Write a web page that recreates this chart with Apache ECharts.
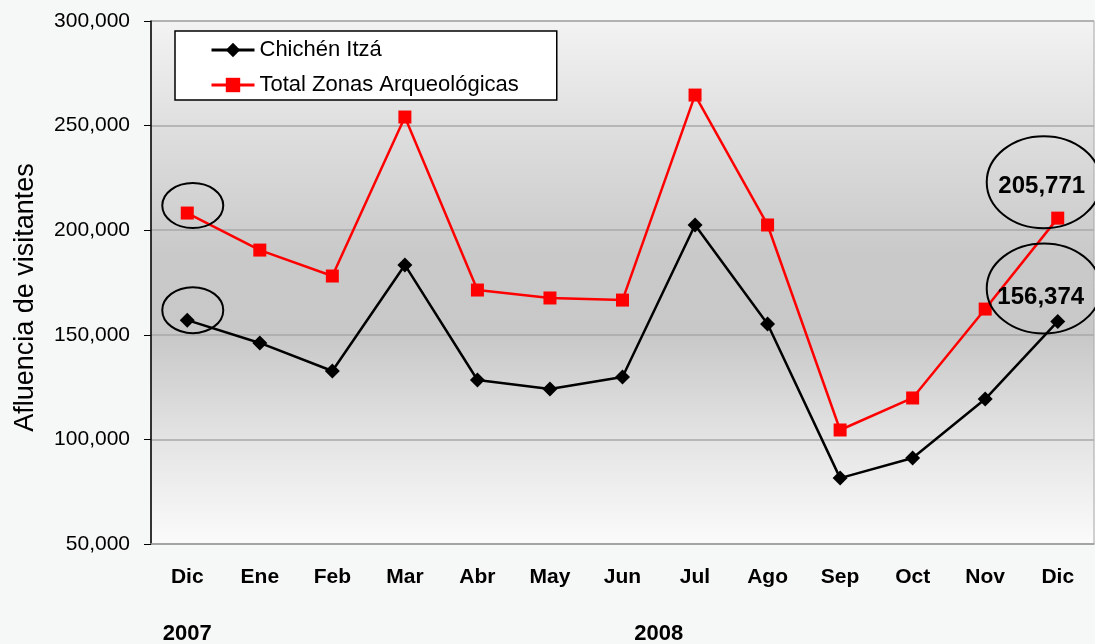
<!DOCTYPE html>
<html>
<head>
<meta charset="utf-8">
<script src="https://cdn.jsdelivr.net/npm/echarts@6/dist/echarts.min.js"></script>
<style>
html,body{margin:0;padding:0;background:#f6f7f7;}
#chart{width:1095px;height:644px;}
</style>
</head>
<body>
<div id="chart"></div>
<script>
const categories = ['Dic','Ene','Feb','Mar','Abr','May','Jun','Jul','Ago','Sep','Oct','Nov','Dic'];
const chichenItza = [157000,146100,132700,183400,128400,124100,129800,202500,155200,81500,91100,119300,156374];
const totalZonas = [208200,190500,178100,254100,171400,167600,166600,264600,202500,104500,119800,162300,205771];
const yearLabels = [{text:'2007', from:0, to:0},{text:'2008', from:6, to:7}];
const seriesNames = ['Chichén Itzá','Total Zonas Arqueológicas'];

const FONT = '"Liberation Sans", Arial, sans-serif';
const fmt = v => v.toLocaleString('en-US');
const last = categories.length - 1;

const chart = echarts.init(document.getElementById('chart'));
const option = {
  backgroundColor: '#f6f7f7',
  animation: false,
  textStyle: {fontFamily: FONT},
  grid: {
    left: 151, right: 1, top: 21, bottom: 100,
    containLabel: false,
    outerBoundsMode: 'none',
    show: true,
    borderColor: '#a8a8a8', borderWidth: 1,
    backgroundColor: {
      type: 'linear', x: 0, y: 0, x2: 0, y2: 1,
      colorStops: [
        {offset: 0, color: '#f3f3f3'},
        {offset: 0.2, color: '#dfdfdf'},
        {offset: 0.45, color: '#c9c9c9'},
        {offset: 0.6, color: '#c8c8c8'},
        {offset: 0.8, color: '#e4e4e4'},
        {offset: 1, color: '#fbfbfb'}
      ]
    }
  },
  legend: {
    orient: 'vertical',
    left: 175, top: 31,
    backgroundColor: '#ffffff',
    borderColor: '#000000', borderWidth: 1.5,
    borderRadius: 0,
    padding: [8, 38, 4, 35],
    itemWidth: 43, itemHeight: 18,
    itemGap: 13,
    lineStyle: {width: 3},
    textStyle: {fontFamily: FONT, fontSize: 22, color: '#000'},
    data: seriesNames
  },
  xAxis: {
    type: 'category',
    data: categories,
    boundaryGap: true,
    axisLine: {lineStyle: {color: '#a0a0a0', width: 1.5}},
    axisTick: {show: false},
    axisLabel: {fontFamily: FONT, fontSize: 21, fontWeight: 'bold', color: '#000', margin: 23}
  },
  yAxis: {
    type: 'value',
    min: 50000, max: 300000, interval: 50000,
    name: 'Afluencia de visitantes',
    nameLocation: 'middle',
    nameGap: 112,
    nameTextStyle: {fontFamily: FONT, fontSize: 27, color: '#000', padding: [0, 30, 0, 0]},
    axisLine: {show: true, lineStyle: {color: '#000', width: 1.5}},
    axisTick: {show: true, length: 7, lineStyle: {color: '#000'}},
    axisLabel: {fontFamily: FONT, fontSize: 21, color: '#000', margin: 21, formatter: v => fmt(v)},
    splitLine: {lineStyle: {color: '#a8a8a8', width: 1.5}}
  },
  series: [
    {
      name: seriesNames[0],
      type: 'line',
      data: chichenItza.map((v, i) => i === last ? {
        value: v,
        label: {show: true, position: 'inside', offset: [-17, -24], formatter: p => fmt(p.value),
                fontFamily: FONT, fontSize: 24, fontWeight: 'bold', color: '#000'}
      } : v),
      symbol: 'diamond', symbolSize: 15,
      lineStyle: {color: '#000', width: 2.5},
      itemStyle: {color: '#000'},
      z: 3
    },
    {
      name: seriesNames[1],
      type: 'line',
      data: totalZonas.map((v, i) => i === last ? {
        value: v,
        label: {show: true, position: 'inside', offset: [-16, -32], formatter: p => fmt(p.value),
                fontFamily: FONT, fontSize: 24, fontWeight: 'bold', color: '#000'}
      } : v),
      symbol: 'rect', symbolSize: 13,
      lineStyle: {color: '#ff0000', width: 2.5},
      itemStyle: {color: '#ff0000'},
      z: 2
    }
  ]
};
chart.setOption(option);

// Annotations positioned from data via the chart's scales
const px = (i, v) => chart.convertToPixel({gridIndex: 0}, [i, v]);
const graphics = [];
function ell(i, v, dx, dy, rx, ry) {
  const p = px(i, v);
  graphics.push({type: 'ellipse', shape: {cx: p[0] + dx, cy: p[1] + dy, rx: rx, ry: ry},
    style: {fill: 'none', stroke: '#000', lineWidth: 2}, z: 10});
}
ell(0, totalZonas[0], 5.5, -7.5, 30.5, 22.5);
ell(0, chichenItza[0], 5.5, -10, 30.5, 23);
ell(last, totalZonas[last], -14, -36, 57, 46);
ell(last, chichenItza[last], -14, -33, 57, 45);

const yBase = 634;
yearLabels.forEach(y => {
  const a = px(y.from, 50000)[0], b = px(y.to, 50000)[0];
  graphics.push({type: 'text', x: (a + b) / 2, y: yBase,
    style: {text: y.text, fontFamily: FONT, fontSize: 22, fontWeight: 'bold', fill: '#000',
            textAlign: 'center', textVerticalAlign: 'middle'}});
});
chart.setOption({graphic: graphics});
</script>
</body>
</html>
